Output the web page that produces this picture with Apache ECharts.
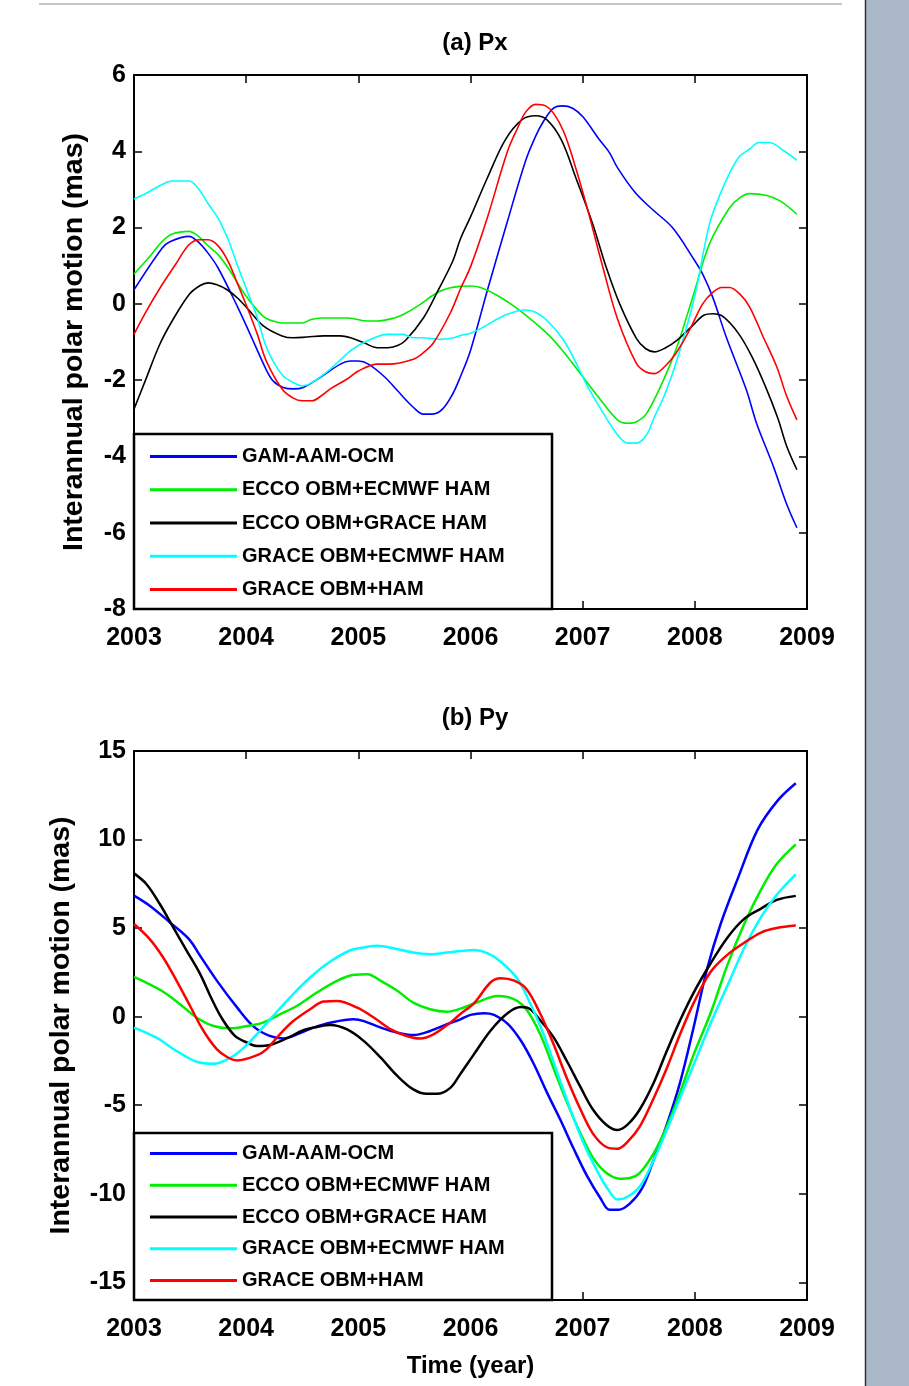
<!DOCTYPE html>
<html>
<head>
<meta charset="utf-8">
<script src="https://cdn.jsdelivr.net/npm/echarts@6/dist/echarts.min.js"></script>
<style>
html,body{margin:0;padding:0;background:#fff;}
#chart{width:909px;height:1386px;}
</style>
</head>
<body>
<div id="chart"></div>
<script>
// ---------- DATA ----------
const seriesNames = ['GAM-AAM-OCM','ECCO OBM+ECMWF HAM','ECCO OBM+GRACE HAM','GRACE OBM+ECMWF HAM','GRACE OBM+HAM'];
const seriesColors = ['#0000ff','#00ee00','#000000','#00ffff','#ff0000'];
const xTicks = [2003,2004,2005,2006,2007,2008,2009];
const pyTickValues = [-15,-10,-5,0,5,10,15];

// Panel (a) Px  [year, mas]
const pxGam = [[2003.0,0.37],[2003.25,1.46],[2003.32,1.63],[2003.49,1.77],[2003.57,1.63],[2003.66,1.33],[2003.75,0.94],[2003.92,-0.06],[2004.05,-0.89],[2004.17,-1.67],[2004.24,-2.02],[2004.33,-2.19],[2004.42,-2.23],[2004.51,-2.19],[2004.66,-1.93],[2004.84,-1.58],[2004.93,-1.50],[2005.0,-1.50],[2005.09,-1.58],[2005.24,-1.93],[2005.35,-2.28],[2005.49,-2.71],[2005.58,-2.89],[2005.66,-2.89],[2005.75,-2.76],[2005.84,-2.37],[2005.91,-1.91],[2006.0,-1.22],[2006.15,0.35],[2006.33,2.17],[2006.49,3.74],[2006.58,4.39],[2006.65,4.78],[2006.74,5.13],[2006.82,5.19],[2006.91,5.13],[2007.0,4.91],[2007.15,4.30],[2007.24,3.96],[2007.31,3.57],[2007.47,2.91],[2007.62,2.48],[2007.80,2.0],[2007.98,1.22],[2008.07,0.78],[2008.16,0.17],[2008.28,-0.87],[2008.46,-2.26],[2008.55,-3.13],[2008.70,-4.26],[2008.82,-5.26],[2008.91,-5.87]];
const pxEccoEcmwf = [[2003.0,0.78],[2003.14,1.24],[2003.25,1.63],[2003.34,1.83],[2003.49,1.90],[2003.57,1.78],[2003.65,1.55],[2003.75,1.29],[2003.86,0.85],[2003.99,0.24],[2004.15,-0.32],[2004.24,-0.45],[2004.33,-0.50],[2004.50,-0.50],[2004.58,-0.41],[2004.67,-0.37],[2004.91,-0.37],[2005.08,-0.45],[2005.17,-0.45],[2005.32,-0.37],[2005.40,-0.28],[2005.55,-0.02],[2005.70,0.29],[2005.82,0.42],[2005.91,0.46],[2006.0,0.47],[2006.09,0.43],[2006.24,0.22],[2006.42,-0.13],[2006.67,-0.74],[2006.82,-1.22],[2006.98,-1.83],[2007.15,-2.48],[2007.31,-3.04],[2007.40,-3.13],[2007.48,-3.09],[2007.57,-2.87],[2007.72,-2.0],[2007.84,-1.13],[2007.99,0.26],[2008.13,1.57],[2008.31,2.52],[2008.40,2.78],[2008.49,2.89],[2008.64,2.84],[2008.76,2.70],[2008.91,2.35]];
const pxEccoGrace = [[2003.0,-2.76],[2003.10,-2.02],[2003.23,-1.06],[2003.34,-0.45],[2003.49,0.24],[2003.59,0.48],[2003.66,0.55],[2003.74,0.50],[2003.83,0.37],[2003.92,0.16],[2004.02,-0.15],[2004.15,-0.57],[2004.32,-0.84],[2004.42,-0.89],[2004.54,-0.87],[2004.69,-0.84],[2004.84,-0.84],[2004.93,-0.89],[2005.05,-1.02],[2005.17,-1.15],[2005.26,-1.15],[2005.35,-1.09],[2005.42,-0.96],[2005.58,-0.37],[2005.70,0.29],[2005.84,1.11],[2005.91,1.70],[2006.0,2.28],[2006.15,3.30],[2006.31,4.30],[2006.46,4.83],[2006.58,4.93],[2006.68,4.83],[2006.81,4.30],[2006.94,3.30],[2007.09,2.09],[2007.21,0.96],[2007.33,0.0],[2007.48,-0.91],[2007.56,-1.17],[2007.64,-1.26],[2007.74,-1.15],[2007.84,-0.96],[2007.98,-0.57],[2008.08,-0.30],[2008.16,-0.26],[2008.25,-0.33],[2008.39,-0.78],[2008.51,-1.39],[2008.63,-2.17],[2008.74,-3.0],[2008.82,-3.74],[2008.91,-4.35]];
const pxGraceEcmwf = [[2003.0,2.75],[2003.11,2.90],[2003.25,3.13],[2003.34,3.22],[2003.49,3.22],[2003.57,3.04],[2003.66,2.63],[2003.75,2.24],[2003.84,1.68],[2003.92,1.03],[2004.01,0.33],[2004.10,-0.37],[2004.17,-1.06],[2004.24,-1.50],[2004.33,-1.89],[2004.42,-2.06],[2004.50,-2.15],[2004.59,-2.06],[2004.75,-1.71],[2004.93,-1.23],[2005.08,-0.97],[2005.26,-0.80],[2005.40,-0.80],[2005.49,-0.89],[2005.58,-0.89],[2005.73,-0.93],[2005.85,-0.89],[2005.91,-0.83],[2006.0,-0.77],[2006.09,-0.65],[2006.27,-0.35],[2006.42,-0.19],[2006.49,-0.16],[2006.58,-0.22],[2006.68,-0.43],[2006.82,-0.91],[2006.93,-1.48],[2007.03,-2.09],[2007.15,-2.70],[2007.31,-3.43],[2007.40,-3.65],[2007.48,-3.65],[2007.57,-3.43],[2007.64,-2.96],[2007.73,-2.39],[2007.84,-1.48],[2007.99,0.09],[2008.13,2.09],[2008.22,2.83],[2008.31,3.43],[2008.40,3.87],[2008.49,4.06],[2008.57,4.23],[2008.66,4.23],[2008.80,4.0],[2008.91,3.76]];
const pxGraceHam = [[2003.0,-0.80],[2003.11,-0.19],[2003.25,0.50],[2003.37,1.03],[2003.49,1.55],[2003.59,1.68],[2003.66,1.68],[2003.75,1.52],[2003.84,1.11],[2003.92,0.55],[2004.01,-0.10],[2004.10,-0.80],[2004.18,-1.50],[2004.32,-2.23],[2004.42,-2.47],[2004.50,-2.54],[2004.59,-2.54],[2004.67,-2.41],[2004.75,-2.23],[2004.90,-1.97],[2005.0,-1.76],[2005.17,-1.58],[2005.27,-1.58],[2005.49,-1.45],[2005.58,-1.28],[2005.67,-1.02],[2005.82,-0.24],[2005.91,0.39],[2006.0,0.97],[2006.15,2.26],[2006.33,4.0],[2006.42,4.61],[2006.49,5.02],[2006.58,5.23],[2006.67,5.19],[2006.74,5.0],[2006.83,4.52],[2006.92,3.74],[2007.04,2.52],[2007.18,0.96],[2007.31,-0.39],[2007.48,-1.57],[2007.56,-1.78],[2007.64,-1.83],[2007.73,-1.65],[2007.83,-1.30],[2007.95,-0.70],[2008.07,0.0],[2008.16,0.30],[2008.24,0.43],[2008.31,0.43],[2008.40,0.26],[2008.49,-0.09],[2008.61,-0.87],[2008.73,-1.65],[2008.82,-2.43],[2008.91,-3.04]];

// Panel (b) Py  [year, mas]
const pyGam = [[2003.0,6.83],[2003.14,6.26],[2003.32,5.32],[2003.49,4.38],[2003.59,3.43],[2003.74,2.02],[2003.92,0.51],[2004.07,-0.58],[2004.21,-1.09],[2004.33,-1.23],[2004.47,-0.96],[2004.60,-0.62],[2004.75,-0.34],[2004.96,-0.15],[2005.05,-0.25],[2005.20,-0.62],[2005.35,-0.91],[2005.49,-1.04],[2005.64,-0.81],[2005.79,-0.43],[2005.91,-0.15],[2006.0,0.10],[2006.12,0.19],[2006.21,0.10],[2006.33,-0.39],[2006.45,-1.36],[2006.56,-2.62],[2006.68,-4.26],[2006.80,-5.81],[2006.92,-7.46],[2007.04,-9.01],[2007.16,-10.27],[2007.24,-10.91],[2007.32,-10.91],[2007.42,-10.56],[2007.53,-9.69],[2007.63,-8.14],[2007.75,-6.10],[2007.87,-3.68],[2007.99,-0.58],[2008.11,2.71],[2008.23,5.23],[2008.38,7.75],[2008.56,10.56],[2008.74,12.21],[2008.90,13.18]];
const pyEccoEcmwf = [[2003.0,2.25],[2003.25,1.45],[2003.41,0.70],[2003.56,-0.06],[2003.71,-0.53],[2003.86,-0.66],[2004.01,-0.53],[2004.15,-0.34],[2004.30,0.13],[2004.45,0.60],[2004.63,1.36],[2004.81,2.02],[2004.96,2.36],[2005.08,2.40],[2005.20,2.02],[2005.35,1.45],[2005.49,0.79],[2005.64,0.42],[2005.79,0.28],[2005.91,0.45],[2006.06,0.81],[2006.24,1.16],[2006.39,0.97],[2006.50,0.39],[2006.62,-0.97],[2006.74,-2.91],[2006.86,-4.84],[2006.98,-6.59],[2007.09,-7.95],[2007.21,-8.82],[2007.33,-9.15],[2007.42,-9.11],[2007.51,-8.82],[2007.63,-7.75],[2007.75,-6.20],[2007.87,-4.26],[2007.99,-2.13],[2008.14,0.19],[2008.29,2.91],[2008.44,5.23],[2008.59,7.17],[2008.73,8.62],[2008.90,9.73]];
const pyEccoGrace = [[2003.0,8.09],[2003.11,7.49],[2003.23,6.36],[2003.35,5.04],[2003.47,3.72],[2003.59,2.40],[2003.68,1.17],[2003.78,-0.06],[2003.90,-1.09],[2004.01,-1.47],[2004.10,-1.66],[2004.21,-1.60],[2004.36,-1.23],[2004.51,-0.77],[2004.63,-0.58],[2004.75,-0.47],[2004.90,-0.72],[2005.05,-1.38],[2005.20,-2.32],[2005.35,-3.36],[2005.49,-4.11],[2005.61,-4.36],[2005.70,-4.36],[2005.82,-4.02],[2005.91,-3.23],[2006.03,-2.13],[2006.18,-0.78],[2006.33,0.19],[2006.45,0.54],[2006.53,0.43],[2006.62,-0.19],[2006.74,-1.16],[2006.86,-2.52],[2006.98,-3.97],[2007.09,-5.23],[2007.21,-6.10],[2007.31,-6.40],[2007.40,-6.10],[2007.51,-5.23],[2007.63,-3.78],[2007.75,-1.94],[2007.87,-0.19],[2007.99,1.36],[2008.14,3.0],[2008.29,4.46],[2008.44,5.52],[2008.59,6.10],[2008.73,6.59],[2008.90,6.82]];
const pyGraceEcmwf = [[2003.0,-0.62],[2003.20,-1.19],[2003.38,-1.94],[2003.56,-2.55],[2003.71,-2.66],[2003.86,-2.32],[2003.98,-1.75],[2004.10,-0.96],[2004.24,0.04],[2004.39,1.08],[2004.57,2.21],[2004.75,3.11],[2004.93,3.75],[2005.05,3.91],[2005.17,4.0],[2005.32,3.85],[2005.49,3.62],[2005.64,3.53],[2005.79,3.62],[2005.91,3.70],[2006.03,3.76],[2006.15,3.59],[2006.27,3.10],[2006.42,2.13],[2006.53,0.78],[2006.65,-0.97],[2006.77,-3.10],[2006.89,-5.23],[2007.01,-7.17],[2007.13,-8.72],[2007.23,-9.79],[2007.31,-10.33],[2007.40,-10.17],[2007.51,-9.59],[2007.63,-8.14],[2007.75,-6.40],[2007.87,-4.55],[2007.99,-2.71],[2008.14,-0.39],[2008.29,1.74],[2008.44,3.88],[2008.59,5.62],[2008.73,6.88],[2008.90,8.04]];
const pyGraceHam = [[2003.0,5.23],[2003.14,4.38],[2003.26,3.34],[2003.38,2.02],[2003.50,0.60],[2003.62,-0.81],[2003.74,-1.85],[2003.83,-2.28],[2003.92,-2.47],[2004.10,-2.17],[2004.18,-1.85],[2004.30,-1.0],[2004.42,-0.25],[2004.57,0.42],[2004.69,0.85],[2004.81,0.89],[2004.99,0.51],[2005.14,-0.06],[2005.29,-0.72],[2005.43,-1.09],[2005.55,-1.23],[2005.67,-1.0],[2005.82,-0.34],[2005.91,0.15],[2006.03,0.75],[2006.18,1.94],[2006.27,2.17],[2006.39,2.03],[2006.50,1.55],[2006.62,0.19],[2006.74,-1.55],[2006.86,-3.49],[2006.98,-5.23],[2007.09,-6.59],[2007.21,-7.36],[2007.31,-7.46],[2007.40,-7.07],[2007.51,-6.20],[2007.63,-4.65],[2007.75,-2.91],[2007.87,-0.97],[2007.99,0.78],[2008.14,2.52],[2008.29,3.49],[2008.44,4.17],[2008.59,4.75],[2008.73,5.0],[2008.90,5.14]];

const pxData = [pxGam, pxEccoEcmwf, pxEccoGrace, pxGraceEcmwf, pxGraceHam];
const pyData = [pyGam, pyEccoEcmwf, pyEccoGrace, pyGraceEcmwf, pyGraceHam];

// ---------- STYLE ----------
const FONT = "'Liberation Sans', Arial, Helvetica, sans-serif";
const tickFont = {color:'#000', fontFamily:FONT, fontWeight:'bold', fontSize:25};

function xAxes(gi, showName){
  return [
    {gridIndex:gi, type:'value', min:2003, max:2009, interval:1, position:'bottom',
     axisLine:{show:true, onZero:false, lineStyle:{color:'#000', width:2}},
     axisTick:{inside:true, length:8, lineStyle:{color:'#000', width:1.5}},
     axisLabel:Object.assign({margin:17, formatter:v=>String(v)}, tickFont),
     splitLine:{show:false},
     name: showName ? 'Time (year)' : '', nameLocation:'middle', nameGap:54,
     nameTextStyle:{color:'#000', fontFamily:FONT, fontWeight:'bold', fontSize:24}},
    {gridIndex:gi, type:'value', min:2003, max:2009, interval:1, position:'top',
     axisLine:{show:true, onZero:false, lineStyle:{color:'#000', width:2}},
     axisTick:{inside:true, length:8, lineStyle:{color:'#000', width:1.5}},
     axisLabel:{show:false}, splitLine:{show:false}}
  ];
}

const option = {
  animation:false,
  backgroundColor:'#ffffff',
  title:[
    {text:'(a) Px', left:470, top:26, textAlign:'center',
     textStyle:{color:'#000', fontFamily:FONT, fontWeight:'bold', fontSize:24}},
    {text:'(b) Py', left:470, top:701, textAlign:'center',
     textStyle:{color:'#000', fontFamily:FONT, fontWeight:'bold', fontSize:24}}
  ],
  grid:[
    {left:134, top:75, width:673, height:534},
    {left:134, top:751, width:673, height:549}
  ],
  xAxis:[].concat(xAxes(0,false), xAxes(1,true)),
  yAxis:[
    {gridIndex:0, type:'value', min:-8, max:6, interval:2, position:'left',
     axisLine:{show:true, onZero:false, lineStyle:{color:'#000', width:2}},
     axisTick:{inside:true, length:8, lineStyle:{color:'#000', width:1.5}},
     axisLabel:Object.assign({margin:8}, tickFont), splitLine:{show:false},
     name:'Interannual polar motion (mas)', nameLocation:'middle', nameGap:45,
     nameTextStyle:{color:'#000', fontFamily:FONT, fontWeight:'bold', fontSize:28.5}},
    {gridIndex:0, type:'value', min:-8, max:6, interval:2, position:'right',
     axisLine:{show:true, onZero:false, lineStyle:{color:'#000', width:2}},
     axisTick:{inside:true, length:8, lineStyle:{color:'#000', width:1.5}},
     axisLabel:{show:false}, splitLine:{show:false}},
    {gridIndex:1, type:'value', min:-16, max:15, position:'left',
     axisLine:{show:true, onZero:false, lineStyle:{color:'#000', width:2}},
     axisTick:{inside:true, length:8, customValues:pyTickValues, lineStyle:{color:'#000', width:1.5}},
     axisLabel:Object.assign({margin:8, customValues:pyTickValues}, tickFont), splitLine:{show:false},
     name:'Interannual polar motion (mas)', nameLocation:'middle', nameGap:58,
     nameTextStyle:{color:'#000', fontFamily:FONT, fontWeight:'bold', fontSize:28.5}},
    {gridIndex:1, type:'value', min:-16, max:15, position:'right',
     axisLine:{show:true, onZero:false, lineStyle:{color:'#000', width:2}},
     axisTick:{inside:true, length:8, customValues:pyTickValues, lineStyle:{color:'#000', width:1.5}},
     axisLabel:{show:false}, splitLine:{show:false}}
  ],
  legend:[
    {data:seriesNames, orient:'vertical', left:150, top:440, itemGap:0, itemWidth:87, itemHeight:3,
     icon:'rect', selectedMode:false, padding:0, z:10,
     textStyle:{color:'#000', fontFamily:FONT, fontWeight:'bold', fontSize:20, lineHeight:33.2}},
    {data:seriesNames, orient:'vertical', left:150, top:1137.5, itemGap:0, itemWidth:87, itemHeight:3,
     icon:'rect', selectedMode:false, padding:0, z:10,
     textStyle:{color:'#000', fontFamily:FONT, fontWeight:'bold', fontSize:20, lineHeight:31.8}}
  ],
  graphic:[
    {type:'rect', z:-1, shape:{x:865, y:0, width:44, height:1386}, style:{fill:'#aab8c8'}},
    {type:'line', z:1, shape:{x1:865.5, y1:0, x2:865.5, y2:1386}, style:{stroke:'#333', lineWidth:1.5}},
    {type:'line', z:1, shape:{x1:39, y1:4, x2:842, y2:4}, style:{stroke:'#b4b4b4', lineWidth:1.5}},
    {type:'rect', z:5, shape:{x:134, y:434, width:418, height:175}, style:{fill:'#fff', stroke:'#000', lineWidth:2.5}},
    {type:'rect', z:5, shape:{x:134, y:1133, width:418, height:167}, style:{fill:'#fff', stroke:'#000', lineWidth:2.5}}
  ],
  series:[]
};

seriesNames.forEach((nm,i)=>{
  option.series.push({name:nm, type:'line', xAxisIndex:0, yAxisIndex:0, data:pxData[i],
    showSymbol:false, symbol:'none', smooth:0.35, z:2, color:seriesColors[i],
    lineStyle:{color:seriesColors[i], width:1.6}});
});
seriesNames.forEach((nm,i)=>{
  option.series.push({name:nm, type:'line', xAxisIndex:2, yAxisIndex:2, data:pyData[i],
    showSymbol:false, symbol:'none', smooth:0.35, z:2, color:seriesColors[i],
    lineStyle:{color:seriesColors[i], width:2.5}});
});

const chart = echarts.init(document.getElementById('chart'), null, {renderer:'canvas'});
chart.setOption(option);
</script>
</body>
</html>
